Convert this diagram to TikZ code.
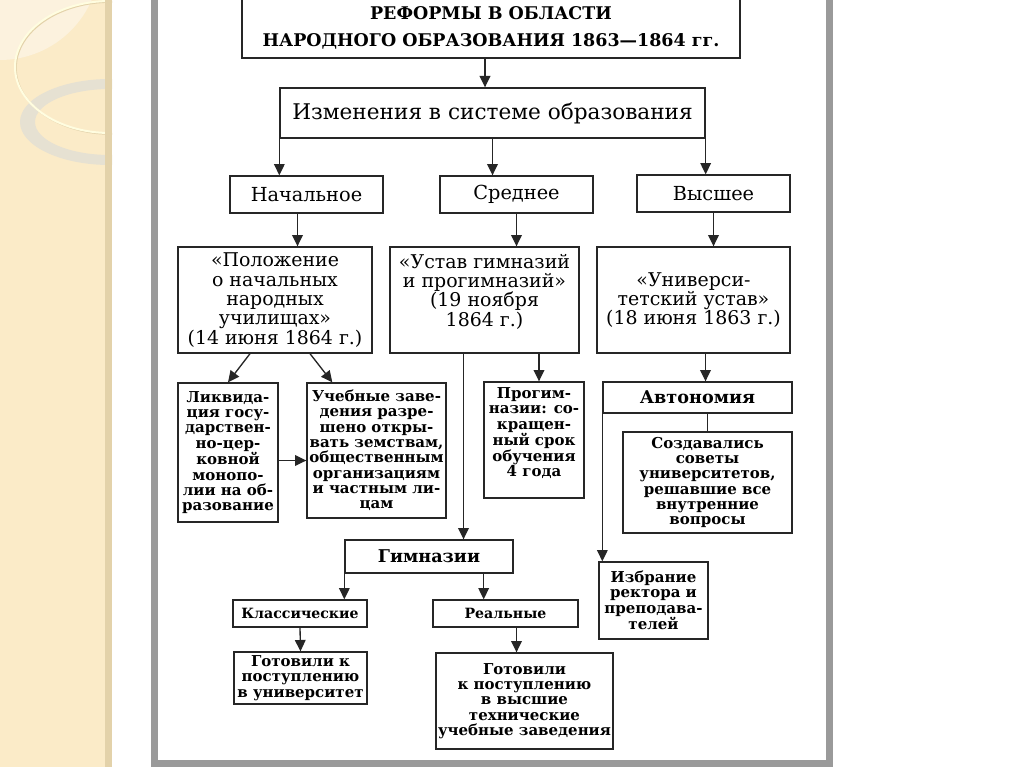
\documentclass[tikz,border=0pt]{standalone}
\usepackage{fontspec}
\setmainfont{DejaVu Serif}
\usepackage{tikz}
\usetikzlibrary{arrows.meta,calc}

\definecolor{slidebeige}{HTML}{FBEBC8}
\definecolor{slideedge}{HTML}{E3D2AA}
\definecolor{slidelight}{HTML}{FCF2DE}
\definecolor{ringgray}{HTML}{E6E1D2}
\definecolor{framegray}{HTML}{9A9A9A}

\begin{document}
\begin{tikzpicture}[
  x=0.75pt, y=-0.75pt,
  >={Triangle[length=8.5pt,width=8pt]},
  box/.style={rectangle, draw=black!85, line width=1pt, inner sep=1pt,
    align=center, fill=white},
  sz/.style 2 args={minimum width=#1*0.75pt, minimum height=#2*0.75pt},
  head/.style={box, font=\fontsize{13.1}{20}\selectfont\bfseries},
  big/.style={box, font=\fontsize{16.2}{18}\selectfont},
  level/.style={box, font=\fontsize{14.5}{16}\selectfont},
  act/.style={box, font=\fontsize{14.2}{14.5}\selectfont},
  note/.style={box, font=\fontsize{11.25}{11.5}\selectfont\bfseries},
  tag/.style={box, font=\fontsize{13.2}{14}\selectfont\bfseries},
  kind/.style={box, font=\fontsize{10.6}{12}\selectfont\bfseries},
  edge/.style={->, line width=1pt, draw=black!85},
  link/.style={line width=1pt, draw=black!85},
]
\useasboundingbox (0,0) rectangle (1024,767);

% ---- Slide background ----
\fill[white] (0,0) rectangle (1024,767);
\begin{scope}
  \clip (0,0) rectangle (112,767);
  \fill[slidebeige] (0,0) rectangle (112,767);
  \fill[slidelight] (0,-40) circle (100);
  \fill[ringgray, even odd rule] (110,122) ellipse [x radius=90, y radius=43]
    (110,122) ellipse [x radius=75, y radius=33];
  \draw[slideedge, line width=1.2pt] (111,68) ellipse [x radius=95, y radius=66];
  \draw[yellow!12, line width=1.5pt] (110,67) ellipse [x radius=95, y radius=66];
  \fill[slideedge] (105,0) rectangle (112,767);
\end{scope}
\fill[framegray] (151,-1) rectangle (158,767);
\fill[framegray] (826,-1) rectangle (833,767);
\fill[framegray] (151,760) rectangle (833,767);

% ---- Top ----
\node[head, sz={498}{60}] (title) at (491,28)
  {РЕФОРМЫ В ОБЛАСТИ\\НАРОДНОГО ОБРАЗОВАНИЯ 1863—1864 гг.};
\node[big, sz={425}{50}] (sys) at (492.5,113) {Изменения в системе образования};

% ---- Levels ----
\node[level, sz={153}{37}] (prim) at (306.5,194.5) {Начальное};
\node[level, sz={153}{37}] (sec) at (516.5,194.5) {Среднее};
\node[level, sz={153}{37}] (high) at (713.5,193.5) {Высшее};

% ---- Statutes ----
\node[act, sz={194}{106}] (polozh) at (275,300)
  {«Положение\\о начальных\\народных\\училищах»\\(14 июня 1864 г.)};
\node[act, sz={189}{106}] (ustav) at (484.5,300)
  {«Устав гимназий\\и прогимназий»\\(19 ноября\\1864 г.)\\[0.5pt]};
\node[act, sz={193}{106}] (univ) at (693.5,300)
  {«Универси-\\тетский устав»\\(18 июня 1863 г.)};

% ---- Primary schools ----
\node[note, sz={100}{139}] (liquid) at (228,452.5)
  {Ликвида-\\ция госу-\\дарствен-\\но-цер-\\ковной\\монопо-\\лии на об-\\разование};
\node[note, sz={139}{135}] (zemstvo) at (376.5,450.5)
  {Учебные заве-\\дения разре-\\шено откры-\\вать земствам,\\общественным\\организациям\\и частным ли-\\цам};

% ---- Secondary schools ----
\node[note, sz={100}{116}] (progym) at (534,440)
  {Прогим-\\назии: со-\\кращен-\\ный срок\\обучения\\4 года\\[0.5pt]};
\node[tag, sz={168}{33}] (gymn) at (429,556.5) {Гимназии};
\node[kind, sz={134}{27}] (classic) at (300,613.5) {Классические};
\node[kind, sz={145}{27}] (real) at (505.5,613.5) {Реальные};
\node[note, sz={133}{52}] (prepuni) at (300.5,678)
  {Готовили к\\поступлению\\в университет};
\node[note, sz={177}{96}] (preptech) at (524.5,701)
  {Готовили\\к поступлению\\в высшие\\технические\\учебные заведения};

% ---- Universities ----
\node[tag, sz={189}{31}] (auton) at (697.5,397.5) {Автономия};
\node[note, sz={169}{101}] (councils) at (707.5,482.5)
  {Создавались\\советы\\университетов,\\решавшие все\\внутренние\\вопросы};
\node[note, sz={109}{77}] (elect) at (653.5,600.5)
  {Избрание\\ректора и\\преподава-\\телей};

% ---- Edges ----
\coordinate (ts) at ($(title.south)+(-6,0)$);
\draw[edge] (ts) -- (ts |- sys.north);
\draw[edge] (sys.south west) -- (sys.south west |- prim.north);
\draw[edge] (sys.south) -- (sys.south |- sec.north);
\draw[edge] (sys.south east) -- (sys.south east |- high.north);
\coordinate (ps) at ($(prim.south)+(-9,0)$);
\draw[edge] (ps) -- (ps |- polozh.north);
\draw[edge] (sec.south) -- (sec.south |- ustav.north);
\draw[edge] (high.south) -- (high.south |- univ.north);

\draw[edge] ($(polozh.south)+(-25,0)$) -- (liquid.north);
\draw[edge] ($(polozh.south)+(35,0)$) -- ($(zemstvo.north west)+(26,0)$);
\coordinate (le) at ($(liquid.east)+(0,8)$);
\draw[edge] (le) -- (le -| zemstvo.west);

\coordinate (ug) at ($(ustav.south)+(-21,0)$);
\draw[edge] (ug) -- (ug |- gymn.north);
\coordinate (up) at ($(progym.north)+(5,0)$);
\draw[edge] (up |- ustav.south) -- (up);
\coordinate (gr) at ($(gymn.south east)+(-30,0)$);
\draw[edge] (gymn.south west) -- (gymn.south west |- classic.north);
\draw[edge] (gr) -- (gr |- real.north);
\draw[edge] (classic.south) -- (prepuni.north);
\coordinate (rs) at ($(real.south)+(11,0)$);
\draw[edge] (rs) -- (rs |- preptech.north);

\coordinate (ua) at ($(auton.north)+(8,0)$);
\draw[edge] (ua |- univ.south) -- (ua);
\draw[link] (councils.north |- auton.south) -- (councils.north);
\draw[edge] (auton.south west) -- (auton.south west |- elect.north);

\end{tikzpicture}
\end{document}
